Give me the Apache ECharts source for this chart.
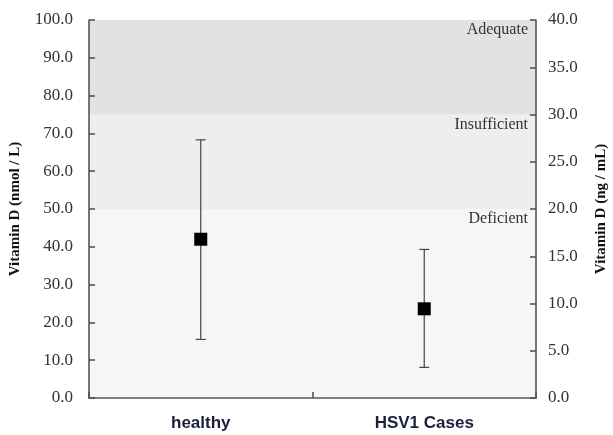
<!DOCTYPE html>
<html>
<head>
<meta charset="utf-8">
<script src="https://cdn.jsdelivr.net/npm/echarts@6/dist/echarts.min.js"></script>
<style>html,body{margin:0;padding:0;background:#fff}#c{width:613px;height:435px}</style>
</head>
<body>
<div id="c"></div>
<script>
var categories = ['healthy', 'HSV1 Cases'];
var means = [42.0, 23.6];
var lowers = [15.5, 8.1];
var uppers = [68.3, 39.3];
var bands = [
  {name: 'Deficient', from: 0, to: 50, color: '#f6f6f6'},
  {name: 'Insufficient', from: 50, to: 75, color: '#eeeeee'},
  {name: 'Adequate', from: 75, to: 100, color: '#e2e2e2'}
];

var chart = echarts.init(document.getElementById('c'));
var serif = '"Liberation Serif", "DejaVu Serif", serif';
var axisLine = {show: true, lineStyle: {color: '#555', width: 1.6}};
var tick = {show: true, inside: true, length: 6, lineStyle: {color: '#555', width: 1.6}};

chart.setOption({
  animation: false,
  grid: {left: 89, right: 77, top: 20, bottom: 37, containLabel: false, outerBoundsMode: 'none'},
  xAxis: {
    type: 'category',
    z: 10,
    data: categories,
    boundaryGap: true,
    axisLine: axisLine,
    axisTick: tick,
    axisLabel: {margin: 17, color: '#1b1f3a', fontFamily: '"Liberation Sans", Arial, sans-serif', fontWeight: 'bold', fontSize: 17}
  },
  yAxis: [
    {
      type: 'value', min: 0, max: 100, interval: 10, position: 'left', z: 10,
      name: 'Vitamin D (nmol / L)', nameLocation: 'middle', nameGap: 66,
      nameTextStyle: {fontFamily: serif, fontWeight: 'bold', fontSize: 15, color: '#111'},
      axisLine: axisLine,
      axisTick: tick,
      splitLine: {show: false},
      axisLabel: {formatter: function (v) { return v.toFixed(1); }, fontFamily: serif, fontSize: 17, color: '#333', margin: 16}
    },
    {
      type: 'value', min: 0, max: 40, interval: 5, position: 'right', z: 10,
      name: 'Vitamin D (ng / mL)', nameLocation: 'middle', nameGap: 58, nameRotate: 90,
      nameTextStyle: {fontFamily: serif, fontWeight: 'bold', fontSize: 15, color: '#111'},
      axisLine: axisLine,
      axisTick: tick,
      splitLine: {show: false},
      axisLabel: {formatter: function (v) { return v.toFixed(1); }, fontFamily: serif, fontSize: 17, color: '#333', margin: 12}
    }
  ],
  series: [
    {
      type: 'line',
      yAxisIndex: 0,
      z: -1,
      data: [],
      markArea: {
        silent: true,
        z: -1,
        data: bands.map(function (b) {
          return [
            {yAxis: b.from, itemStyle: {color: b.color}, label: {show: true, position: 'insideTopRight', formatter: b.name, fontFamily: serif, fontSize: 16, color: '#333', offset: [-3, -3]}},
            {yAxis: b.to}
          ];
        })
      }
    },
    {
      type: 'custom',
      yAxisIndex: 0,
      z: 3,
      data: categories.map(function (c, i) { return [i, lowers[i], uppers[i]]; }),
      renderItem: function (params, api) {
        var x = api.value(0);
        var lo = api.coord([x, api.value(1)]);
        var hi = api.coord([x, api.value(2)]);
        var hw = 5;
        var st = {stroke: '#444', lineWidth: 1.2};
        return {
          type: 'group',
          children: [
            {type: 'line', shape: {x1: lo[0], y1: lo[1], x2: hi[0], y2: hi[1]}, style: st},
            {type: 'line', shape: {x1: lo[0] - hw, y1: lo[1], x2: lo[0] + hw, y2: lo[1]}, style: st},
            {type: 'line', shape: {x1: hi[0] - hw, y1: hi[1], x2: hi[0] + hw, y2: hi[1]}, style: st}
          ]
        };
      }
    },
    {
      type: 'scatter',
      yAxisIndex: 0,
      z: 4,
      symbol: 'rect',
      symbolSize: 13,
      itemStyle: {color: '#000', opacity: 1},
      data: categories.map(function (c, i) { return [i, means[i]]; })
    }
  ]
});
</script>
</body>
</html>
